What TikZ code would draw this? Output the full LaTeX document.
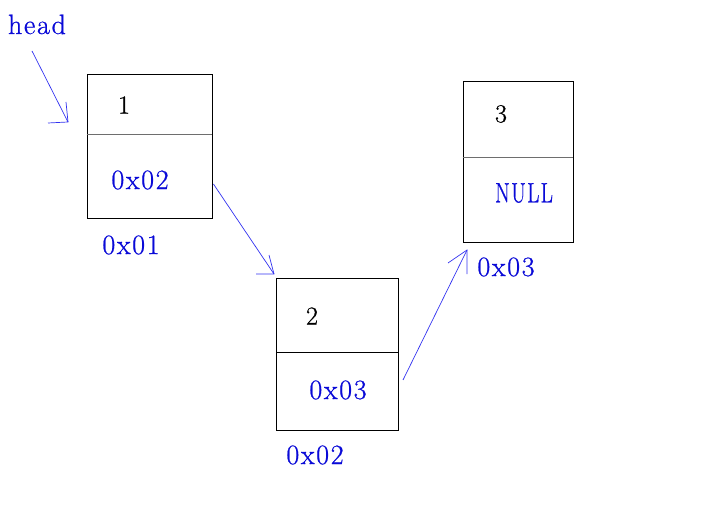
\documentclass[tikz,border=0pt]{standalone}
\usepackage{fontspec}
\usetikzlibrary{calc}
\newfontfamily\codefont[LetterSpace=6,FakeBold=0.8]{Latin Modern Roman}
\definecolor{ink}{RGB}{10,10,215}
\definecolor{wire}{RGB}{50,50,240}
\definecolor{rule}{RGB}{110,110,110}
\begin{document}
\begin{tikzpicture}[x=1pt,y=-1pt,
  cell/.style={draw=black,line width=0.9pt,minimum width=#1,inner sep=0pt},
  val/.style={font=\fontsize{26}{28}\selectfont\codefont,text=black,inner sep=0pt},
  addr/.style={font=\fontsize{28}{30}\selectfont\codefont,text=ink,inner sep=0pt},
  link/.style={draw=wire,line width=0.7pt}]
\useasboundingbox (0,0) rectangle (707,513);

% node 1
\node[cell=125pt,minimum height=60pt]  (v1) at (149.5,104) {};
\node[cell=125pt,minimum height=84pt]  (p1) at (149.5,176) {};
\draw[rule,line width=0.9pt] (v1.south west) -- (v1.south east);
\node[val]  (v1t) at (124,105) {1};
\node[addr] (p1t) at (140,180) {0x02};
\node[addr] (a1)  at (131,245) {0x01};

% node 2
\node[cell=122pt,minimum height=74pt]  (v2) at (337,315) {};
\node[cell=122pt,minimum height=78pt]  (p2) at (337,391) {};
\node[val]  (v2t) at (312,316) {2};
\node[addr] (p2t) at (338,390) {0x03};
\node[addr] (a2)  at (315,455) {0x02};

% node 3
\node[cell=110pt,minimum height=76pt]  (v3) at (518,119) {};
\node[cell=110pt,minimum height=85pt]  (p3) at (518,199.5) {};
\draw[rule,line width=0.9pt] (v3.south west) -- (v3.south east);
\node[val]  (v3t) at (501,114) {3};
\node[addr] (p3t) at (524,193) {\scalebox{0.76}[1]{NULL}};
\node[addr] (a3)  at (506,267) {0x03};

% head pointer label
\node[addr,anchor=base] (hd) at (37,34) {head};

% connectors and their open heads
\coordinate (hs) at (32,51);
\coordinate (t1) at (68,122);
\draw[link] (hs) -- (t1);
\draw[link] ($(t1)+(-20,1)$) -- (t1) -- ($(t1)+(-2,-20)$);

\coordinate (s2) at ($(p1.east)+(1,8)$);
\coordinate (t2) at (274,274);
\draw[link] (s2) -- (t2);
\draw[link] ($(t2)+(-18,0)$) -- (t2) -- ($(t2)+(-5,-19)$);

\coordinate (s3) at (403,380);
\coordinate (t3) at (467,250);
\draw[link] (s3) -- (t3);
\draw[link] ($(t3)+(-19,13)$) -- (t3) -- ($(t3)+(0,24)$);
\end{tikzpicture}
\end{document}
